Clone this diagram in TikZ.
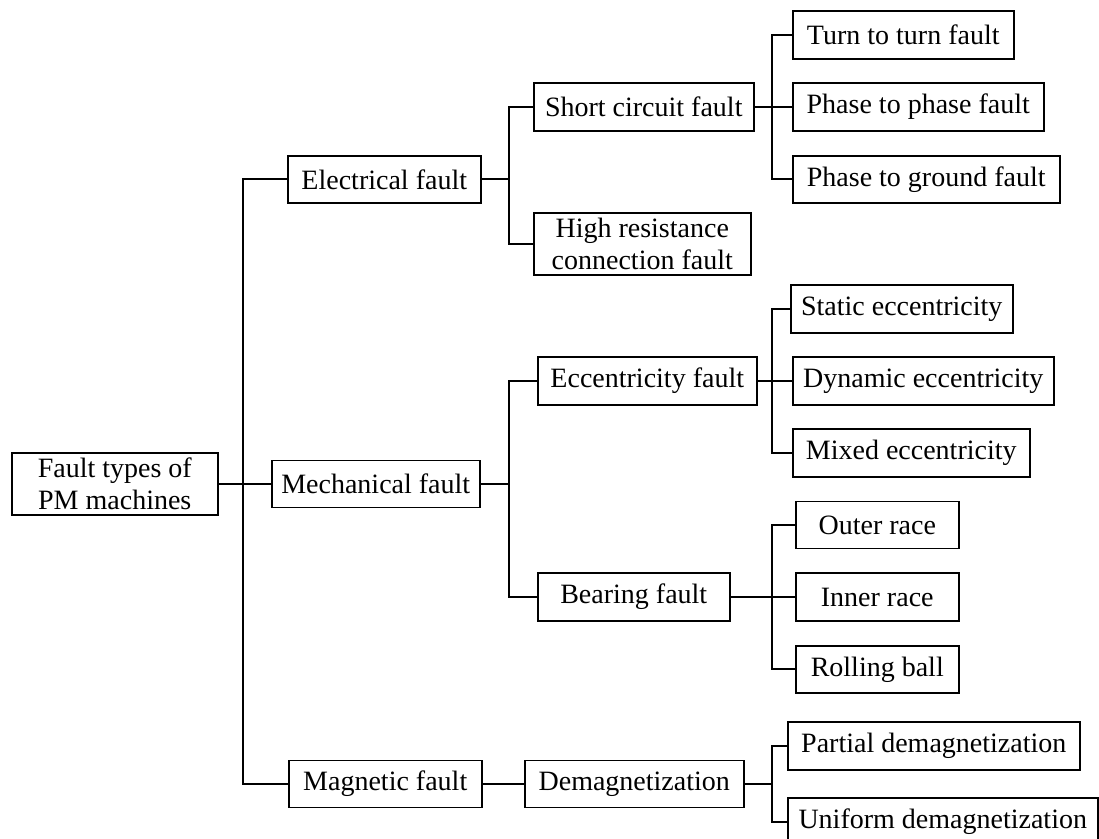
\documentclass[tikz,border=0pt]{standalone}
\usepackage{fontspec}
\setmainfont{Liberation Serif}
\begin{document}
\begin{tikzpicture}[x=0.5pt,y=-0.5pt,
  fbox/.style={draw=black, line width=0.75pt, inner sep=0pt, align=center,
    font=\fontsize{14}{16}\selectfont, anchor=west},
  link/.style={draw=black, line width=1pt}]
\useasboundingbox (0,0) rectangle (1099,839);
\clip (0,0) rectangle (1099,839);
% level 0
\node[fbox, minimum width=103pt, minimum height=31pt] (root) at (11,484) {Fault types of\\PM machines};
% level 1
\node[fbox, minimum width=96.5pt, minimum height=23.5pt] (elec) at (287,179.5) {Electrical fault};
\node[fbox, minimum width=104pt, minimum height=23.5pt] (mech) at (271,484) {Mechanical fault};
\node[fbox, minimum width=96.5pt, minimum height=23.5pt] (magn) at (288,784) {Magnetic fault};
% level 2
\node[fbox, minimum width=110pt, minimum height=24pt] (sc) at (533,107) {Short circuit fault};
\node[fbox, minimum width=108.5pt, minimum height=31pt] (hr) at (533,244) {High resistance\\connection fault};
\node[fbox, minimum width=109.5pt, minimum height=24pt] (ecc) at (537,381) {Eccentricity fault};
\node[fbox, minimum width=96pt, minimum height=24pt] (bear) at (537,597) {Bearing fault};
\node[fbox, minimum width=109.5pt, minimum height=23.5pt] (demag) at (524,784) {Demagnetization};
% level 3
\node[fbox, minimum width=110.5pt, minimum height=24pt] (ttt) at (792,35) {Turn to turn fault};
\node[fbox, minimum width=125.5pt, minimum height=24pt] (ptp) at (792,107) {Phase to phase fault};
\node[fbox, minimum width=133.5pt, minimum height=23.5pt] (ptg) at (792,179.5) {Phase to ground fault};
\node[fbox, minimum width=111pt, minimum height=24pt] (stat) at (790,309) {Static eccentricity};
\node[fbox, minimum width=130.5pt, minimum height=24pt] (dyn) at (792,381) {Dynamic eccentricity};
\node[fbox, minimum width=118.5pt, minimum height=24pt] (mix) at (792,453) {Mixed eccentricity};
\node[fbox, minimum width=81.5pt, minimum height=23.5pt] (outer) at (795,525) {Outer race};
\node[fbox, minimum width=81.5pt, minimum height=24pt] (inner) at (795,597) {Inner race};
\node[fbox, minimum width=81.5pt, minimum height=23.5pt] (roll) at (795,669.5) {Rolling ball};
\node[fbox, minimum width=146pt, minimum height=24pt] (part) at (787,746) {Partial demagnetization};
\node[fbox, minimum width=155pt, minimum height=24pt] (unif) at (787,822) {Uniform demagnetization};
% junction coordinates
\coordinate (t0) at (243,484);
\coordinate (t1) at (509,179.5);
\coordinate (t2) at (509,484);
\coordinate (t3) at (772,107);
\coordinate (t4) at (772,381);
\coordinate (t5) at (772,597);
\coordinate (t6) at (772,784);
% connectors
\draw[link] (root.east) -- (mech.west);
\draw[link] (elec.west) -| (t0) |- (magn.west);
\draw[link] (elec.east) -- (t1);
\draw[link] (sc.west) -| (t1) |- (hr.west);
\draw[link] (mech.east) -- (t2);
\draw[link] (ecc.west) -| (t2) |- (bear.west);
\draw[link] (sc.east) -- (ptp.west);
\draw[link] (ttt.west) -| (t3) |- (ptg.west);
\draw[link] (ecc.east) -- (dyn.west);
\draw[link] (stat.west) -| (t4) |- (mix.west);
\draw[link] (bear.east) -- (inner.west);
\draw[link] (outer.west) -| (t5) |- (roll.west);
\draw[link] (magn.east) -- (demag.west);
\draw[link] (demag.east) -- (t6);
\draw[link] (part.west) -| (t6) |- (unif.west);
\end{tikzpicture}
\end{document}
